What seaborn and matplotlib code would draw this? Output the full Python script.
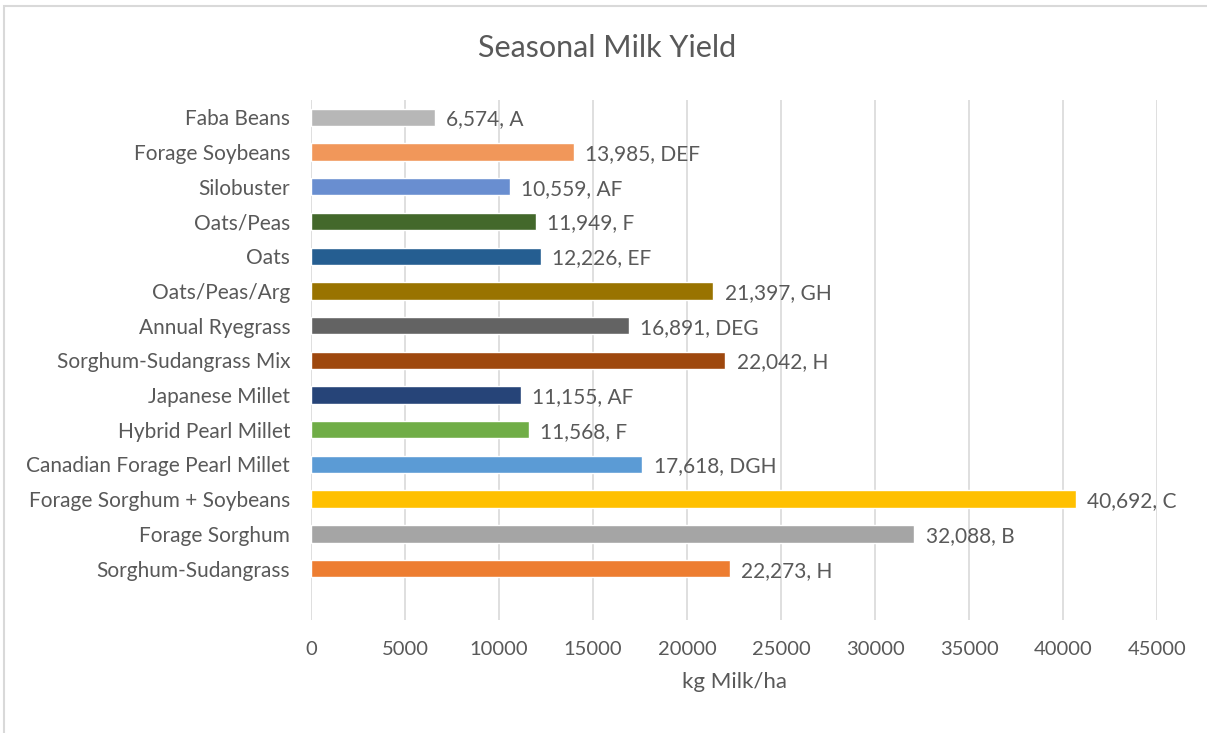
import matplotlib
matplotlib.use("Agg")
import matplotlib.pyplot as plt
import seaborn as sns
import pandas as pd
from matplotlib.patches import Rectangle

crops = [
    "Faba Beans", "Forage Soybeans", "Silobuster", "Oats/Peas", "Oats",
    "Oats/Peas/Arg", "Annual Ryegrass", "Sorghum-Sudangrass Mix",
    "Japanese Millet", "Hybrid Pearl Millet", "Canadian Forage Pearl Millet",
    "Forage Sorghum + Soybeans", "Forage Sorghum", "Sorghum-Sudangrass",
]
milk_yield = [6574, 13985, 10559, 11949, 12226, 21397, 16891, 22042,
              11155, 11568, 17618, 40692, 32088, 22273]
letters = ["A", "DEF", "AF", "F", "EF", "GH", "DEG", "H",
           "AF", "F", "DGH", "C", "B", "H"]
colors = ["#B7B7B7", "#F1975A", "#698ED0", "#43682B", "#255E91",
          "#997300", "#636363", "#9E480E", "#264478", "#70AD47",
          "#5B9BD5", "#FFC000", "#A5A5A5", "#ED7D31"]
x_ticks = [0, 5000, 10000, 15000, 20000, 25000, 30000, 35000, 40000, 45000]

sns.set_theme(style="white")
plt.rcParams["font.family"] = ["Lato", "DejaVu Sans"]
text_color = "#595959"

df = pd.DataFrame({"crop": crops, "yield": milk_yield, "letter": letters})

fig = plt.figure(figsize=(12.07, 7.33), dpi=100)
ax = fig.add_axes([0.2577, 0.1542, 0.9586 - 0.2577, 0.8636 - 0.1542])

sns.barplot(data=df, x="yield", y="crop", hue="crop", palette=colors,
            order=crops, hue_order=crops, legend=False, width=0.5,
            saturation=1, ax=ax)

for i, (v, lab) in enumerate(zip(milk_yield, letters)):
    ax.text(v + 600, i, f"{v:,}, {lab}", va="center_baseline", ha="left",
            fontsize=15, color=text_color)

ax.set_xlim(0, 45000)
ax.set_ylim(14.48, -0.5)
ax.set_xticks(x_ticks)
ax.set_xticklabels([str(t) for t in x_ticks], fontsize=14.5, color=text_color)
ax.tick_params(axis="x", length=0, pad=15)
ax.tick_params(axis="y", length=0, pad=15, labelsize=15, labelcolor=text_color)
ax.set_ylabel("")
ax.set_xlabel("kg Milk/ha", fontsize=16, color=text_color, labelpad=10)
ax.xaxis.grid(True, color="#D9D9D9", linewidth=1.2)
ax.set_axisbelow(True)
for s in ax.spines.values():
    s.set_visible(False)

fig.text(0.503, 0.934, "Seasonal Milk Yield", ha="center", va="center",
         fontsize=22, color=text_color)

# chart frame
fig.patches.append(Rectangle((0.003, -0.01), 1.2, 1.002, transform=fig.transFigure,
                             fill=False, edgecolor="#D9D9D9", linewidth=1.5))

fig.savefig("out.png", dpi=100, facecolor="white")
